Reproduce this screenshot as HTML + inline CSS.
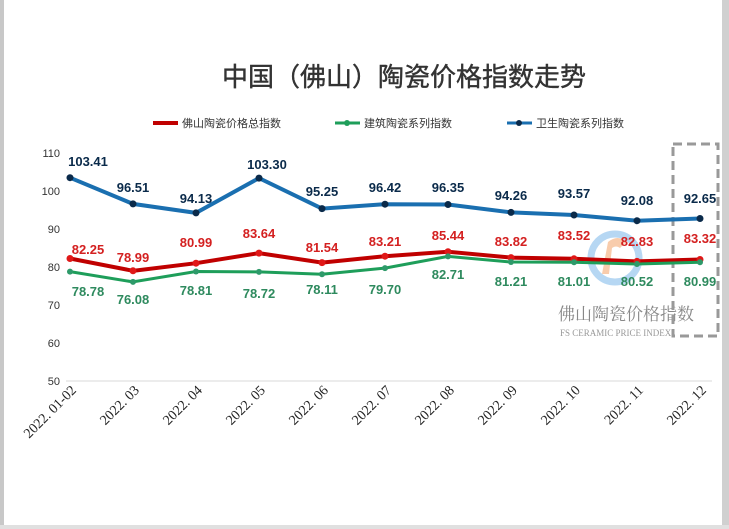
<!DOCTYPE html>
<html><head><meta charset="utf-8"><style>
body{margin:0;background:#fff;}
svg{display:block;font-family:"Liberation Sans","Noto Sans CJK SC",sans-serif;}
</style></head><body>
<svg width="729" height="529" viewBox="0 0 729 529">
<rect width="729" height="529" fill="#fff"/>
<rect x="0" y="0" width="4" height="529" fill="#c8c8c8"/>
<rect x="722" y="0" width="7" height="529" fill="#d0d0d0"/>
<rect x="0" y="525" width="729" height="4" fill="#e0e0e0"/>
<text x="404" y="86" text-anchor="middle" font-size="26" fill="#333" stroke="#333" stroke-width="0.4" font-family="'Noto Sans CJK SC',sans-serif">中国（佛山）陶瓷价格指数走势</text>
<g font-size="11" fill="#333" font-family="'Noto Sans CJK SC',sans-serif">
<line x1="153" y1="123" x2="178" y2="123" stroke="#c00000" stroke-width="4"/><text x="182" y="127">佛山陶瓷价格总指数</text>
<line x1="335" y1="123" x2="360" y2="123" stroke="#1e9e5a" stroke-width="3"/><circle cx="347" cy="123" r="3" fill="#1e9e5a"/><text x="364" y="127">建筑陶瓷系列指数</text>
<line x1="507" y1="123" x2="532" y2="123" stroke="#1a6fb0" stroke-width="3"/><circle cx="519" cy="123" r="3" fill="#0a2a4a"/><text x="536" y="127">卫生陶瓷系列指数</text>
</g>
<g font-size="11" fill="#333" text-anchor="end">
<text x="60" y="157">110</text><text x="60" y="195">100</text><text x="60" y="233">90</text><text x="60" y="271">80</text><text x="60" y="309">70</text><text x="60" y="347">60</text><text x="60" y="385">50</text>
</g>
<line x1="66" y1="381" x2="712" y2="381" stroke="#d9d9d9"/>
<g opacity="0.5">
<circle cx="615" cy="258" r="24" fill="none" stroke="#6fb0e8" stroke-width="7"/>
<path d="M608 242 q10-8 18 0 l-6 6 q-4-3-8 0 l-3 26 h-7 z" fill="#f29a5c"/>
</g>
<text x="558" y="320" font-size="17" fill="#888" font-family="'Noto Serif CJK SC',serif">佛山陶瓷价格指数</text>
<text x="560" y="336" font-size="9" fill="#999" font-family="'Liberation Serif',serif">FS CERAMIC PRICE INDEX</text>
<rect x="673" y="144" width="45" height="192" fill="none" stroke="#999" stroke-width="3" stroke-dasharray="9,5"/>
<polyline fill="none" stroke="#1a6fb0" stroke-width="4" points="70,177.7 133,203.9 196,212.9 259,178.1 322,208.6 385,204.2 448,204.5 511,212.4 574,215.0 637,220.7 700,218.5"/>
<polyline fill="none" stroke="#c00000" stroke-width="4" points="70,258.5 133,270.8 196,263.2 259,253.1 322,262.6 385,256.2 448,251.7 511,257.6 574,258.8 637,261.4 700,259.5"/>
<polyline fill="none" stroke="#1e9e5a" stroke-width="3" points="70,271.6 133,281.9 196,271.5 259,271.9 322,274.2 385,268.1 448,256.4 511,262.0 574,262.2 637,264.0 700,262.3"/>
<g fill="#0a2a4a"><circle cx="70" cy="177.7" r="3.5"/><circle cx="133" cy="203.9" r="3.5"/><circle cx="196" cy="212.9" r="3.5"/><circle cx="259" cy="178.1" r="3.5"/><circle cx="322" cy="208.6" r="3.5"/><circle cx="385" cy="204.2" r="3.5"/><circle cx="448" cy="204.5" r="3.5"/><circle cx="511" cy="212.4" r="3.5"/><circle cx="574" cy="215.0" r="3.5"/><circle cx="637" cy="220.7" r="3.5"/><circle cx="700" cy="218.5" r="3.5"/></g>
<g fill="#e01818"><circle cx="70" cy="258.5" r="3.5"/><circle cx="133" cy="270.8" r="3.5"/><circle cx="196" cy="263.2" r="3.5"/><circle cx="259" cy="253.1" r="3.5"/><circle cx="322" cy="262.6" r="3.5"/><circle cx="385" cy="256.2" r="3.5"/><circle cx="448" cy="251.7" r="3.5"/><circle cx="511" cy="257.6" r="3.5"/><circle cx="574" cy="258.8" r="3.5"/><circle cx="637" cy="261.4" r="3.5"/><circle cx="700" cy="259.5" r="3.5"/></g>
<g fill="#2e9a6a"><circle cx="70" cy="271.6" r="3"/><circle cx="133" cy="281.9" r="3"/><circle cx="196" cy="271.5" r="3"/><circle cx="259" cy="271.9" r="3"/><circle cx="322" cy="274.2" r="3"/><circle cx="385" cy="268.1" r="3"/><circle cx="448" cy="256.4" r="3"/><circle cx="511" cy="262.0" r="3"/><circle cx="574" cy="262.2" r="3"/><circle cx="637" cy="264.0" r="3"/><circle cx="700" cy="262.3" r="3"/></g>
<g font-size="13" font-weight="bold" text-anchor="middle" fill="#0a2a4a">
<text x="88" y="166">103.41</text><text x="133" y="192">96.51</text><text x="196" y="203">94.13</text><text x="267" y="169">103.30</text><text x="322" y="196">95.25</text><text x="385" y="192">96.42</text><text x="448" y="192">96.35</text><text x="511" y="200">94.26</text><text x="574" y="198">93.57</text><text x="637" y="205">92.08</text><text x="700" y="203">92.65</text>
</g>
<g font-size="13" font-weight="bold" text-anchor="middle" fill="#d42020">
<text x="88" y="254">82.25</text><text x="133" y="262">78.99</text><text x="196" y="247">80.99</text><text x="259" y="238">83.64</text><text x="322" y="252">81.54</text><text x="385" y="246">83.21</text><text x="448" y="240">85.44</text><text x="511" y="246">83.82</text><text x="574" y="240">83.52</text><text x="637" y="246">82.83</text><text x="700" y="243">83.32</text>
</g>
<g font-size="13" font-weight="bold" text-anchor="middle" fill="#2e8a5e">
<text x="88" y="296">78.78</text><text x="133" y="304">76.08</text><text x="196" y="295">78.81</text><text x="259" y="298">78.72</text><text x="322" y="294">78.11</text><text x="385" y="294">79.70</text><text x="448" y="279">82.71</text><text x="511" y="286">81.21</text><text x="574" y="286">81.01</text><text x="637" y="286">80.52</text><text x="700" y="286">80.99</text>
</g>
<g font-size="14" fill="#222" text-anchor="end" font-family="'Liberation Serif',serif">
<text transform="translate(77,391) rotate(-45)">2022. 01-02</text>
<text transform="translate(140,391) rotate(-45)">2022. 03</text>
<text transform="translate(203,391) rotate(-45)">2022. 04</text>
<text transform="translate(266,391) rotate(-45)">2022. 05</text>
<text transform="translate(329,391) rotate(-45)">2022. 06</text>
<text transform="translate(392,391) rotate(-45)">2022. 07</text>
<text transform="translate(455,391) rotate(-45)">2022. 08</text>
<text transform="translate(518,391) rotate(-45)">2022. 09</text>
<text transform="translate(581,391) rotate(-45)">2022. 10</text>
<text transform="translate(644,391) rotate(-45)">2022. 11</text>
<text transform="translate(707,391) rotate(-45)">2022. 12</text>
</g>
</svg>
</body></html>
